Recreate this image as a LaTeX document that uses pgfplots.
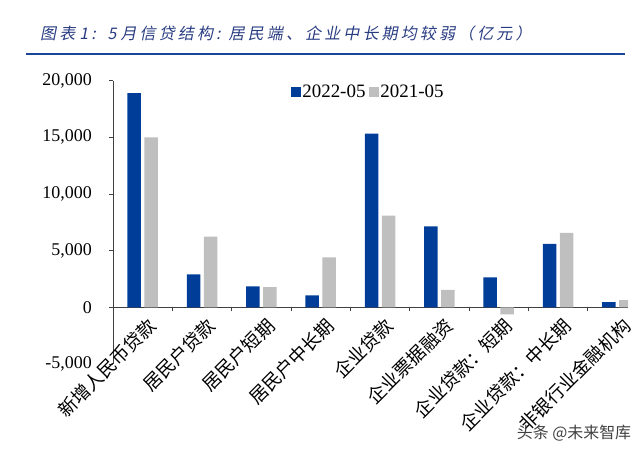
\documentclass[border=0pt]{standalone}
\usepackage{fontspec}
\usepackage{pgfplots}
\pgfplotsset{compat=1.18}
\setmainfont{Liberation Serif}
\newfontfamily\cjk{Noto Sans CJK SC}
\newfontfamily\cjkit[FakeSlant=0.2, LetterSpace=20]{Noto Sans CJK SC}
\definecolor{barblue}{RGB}{0,61,153}
\definecolor{bargray}{RGB}{191,191,191}
\definecolor{titleblue}{RGB}{40,60,130}
\definecolor{ruleblue}{RGB}{25,70,150}
\begin{document}
\begin{tikzpicture}[x=1bp,y=1bp]
\useasboundingbox (0,0) rectangle (640,455);
\node[anchor=west, inner sep=0pt, font=\cjkit\fontsize{16}{18}\selectfont, text=titleblue] at (40,422) {图表\hspace{4bp}1:\hspace{12bp}5\hspace{4bp}月信贷结构:\hspace{8bp}居民端、企业中长期均较弱（亿元）};
\draw[ruleblue, line width=2bp] (26,400.7) -- (625,400.7);
\begin{axis}[
  at={(113bp,91bp)}, anchor=south west,
  scale only axis, width=515bp, height=283.3bp,
  xmin=-0.5, xmax=8.18, ymin=-5000, ymax=20000,
  axis x line*=middle, axis y line*=left,
  axis line style={black!75, line width=0.8bp},
  tick align=outside,
  major tick length=4bp, minor tick length=4bp,
  tick style={black!75, line width=0.8bp},
  xtick={0,...,8},
  xticklabels={新增人民币贷款,居民户贷款,居民户短期,居民户中长期,企业贷款,企业票据融资,企业贷款：短期,企业贷款：中长期,非银行业金融机构},
  major x tick style={draw=none},
  minor xtick={-0.5,0.5,...,7.5},
  ytick={-5000,0,5000,10000,15000,20000},
  scaled y ticks=false,
  /pgf/number format/assume math mode=true,
  /pgf/number format/1000 sep={,},
  yticklabel style={font=\fontsize{18}{20}\selectfont, anchor=east, inner sep=0pt, xshift=-17bp},
  xticklabel style={font=\cjk\fontsize{18.5}{20}\selectfont, rotate=45, anchor=east, inner sep=0pt, xshift=-1bp, yshift=-15bp},
  ybar=3.5bp, bar width=13.5bp,
  legend style={at={(0.345,0.961)}, anchor=west, draw=none, fill=none, inner sep=0pt,
    font=\fontsize{19}{21}\selectfont, legend columns=2,
    nodes={inner xsep=1.5bp, inner ysep=0bp},
    /tikz/every even column/.append style={column sep=2bp}},
  legend image code/.code={\fill[#1] (0bp,-5bp) rectangle (10bp,5bp);},
]
\addplot[fill=barblue, draw=none] coordinates {(0,18900) (1,2910) (2,1850) (3,1060) (4,15320) (5,7150) (6,2650) (7,5590) (8,470)};
\addplot[fill=bargray, draw=none] coordinates {(0,15000) (1,6230) (2,1790) (3,4410) (4,8085) (5,1530) (6,-620) (7,6560) (8,640)};
\legend{2022-05,2021-05}
\end{axis}
\node[font=\cjk\fontsize{16}{18}\selectfont, text=black!75, inner sep=0pt] at (574,22) {头条 @未来智库};
\end{tikzpicture}
\end{document}
